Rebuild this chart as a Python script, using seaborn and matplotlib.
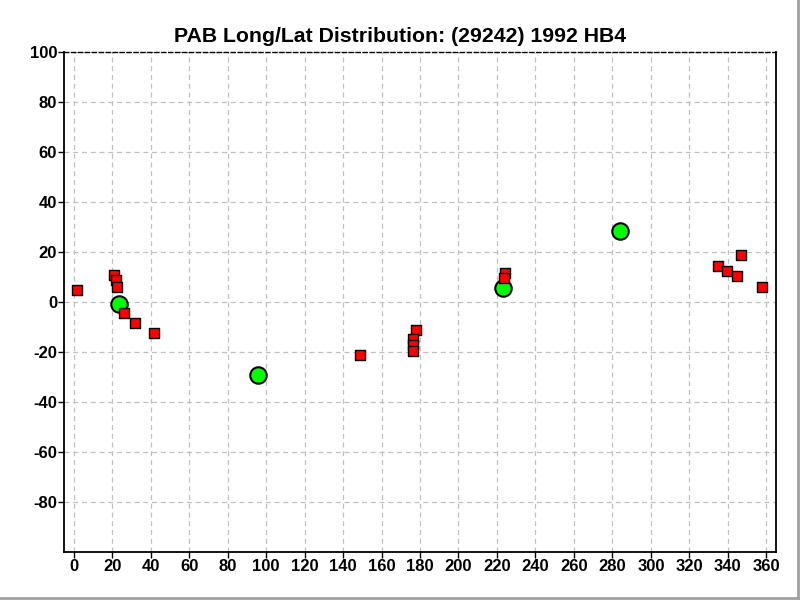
import numpy as np
import pandas as pd
import seaborn as sns
import matplotlib.pyplot as plt
from matplotlib.lines import Line2D

# observed positions (deg)
red_lon = [2, 21, 22, 22.5, 26, 32, 42, 149, 178, 176.5, 176.5, 176.5, 224.3, 223.8,
           335, 339.5, 344.7, 346.8, 357.7]
red_lat = [5, 11, 9, 6.2, -4.3, -8.5, -12.3, -21, -11.3, -14.8, -17, -19.6, 11.6, 9.8,
           14.3, 12.5, 10.5, 19, 6.1]
green_lon = [23.8, 96, 223.3, 284]
green_lat = [-0.6, -29.2, 5.8, 28.6]

x_ticks = list(range(0, 361, 20))
y_ticks = list(range(-80, 101, 20))

sns.set_style("white")
plt.rcParams["font.family"] = ["Liberation Sans", "DejaVu Sans"]
plt.rcParams["text.color"] = "black"
plt.rcParams["xtick.color"] = "black"
plt.rcParams["ytick.color"] = "black"

fig = plt.figure(figsize=(8, 6), dpi=100)
ax = fig.add_axes([0.08, 0.08, 0.89, 0.833])

sns.scatterplot(x=green_lon, y=green_lat, ax=ax, marker="o", s=140,
                color="#00ff00", edgecolor="black", linewidth=1.5, zorder=3)
sns.scatterplot(x=red_lon, y=red_lat, ax=ax, marker="s", s=60,
                color="#ff0000", edgecolor="black", linewidth=1.0, zorder=4)

ax.set_xlim(-5, 365)
ax.set_ylim(-100, 100)
ax.set_xticks(x_ticks)
ax.set_yticks(y_ticks)
ax.set_xticklabels([str(t) for t in x_ticks], fontweight="bold", fontsize=12)
ax.set_yticklabels([str(t) for t in y_ticks], fontweight="bold", fontsize=12)
ax.tick_params(axis="both", direction="out", length=4, width=1, color="black",
               labelcolor="black", bottom=True, left=True, top=False, right=False, pad=1)
ax.grid(True, color="#c0c0c0", linestyle=(0, (4, 3)), linewidth=0.9)
ax.set_axisbelow(True)

for side in ["left", "bottom", "right"]:
    ax.spines[side].set_color("black")
    ax.spines[side].set_linewidth(1.3)
ax.spines["top"].set_color("black")
ax.spines["top"].set_linestyle((0, (3, 2)))
ax.spines["top"].set_linewidth(1.0)

ax.set_xlabel("")
ax.set_ylabel("")
# title is centred on the window, not the axes
fig.text(0.5, 0.94, "PAB Long/Lat Distribution: (29242) 1992 HB4", ha="center",
         va="center", fontweight="bold", fontsize=15.3, color="black")

# window frame
fig.add_artist(Line2D([0, 1], [0.003, 0.003], color="#a0a0a0", linewidth=2))
fig.add_artist(Line2D([0.998, 0.998], [0, 1], color="#a0a0a0", linewidth=2))

plt.savefig("out.png", dpi=100)
